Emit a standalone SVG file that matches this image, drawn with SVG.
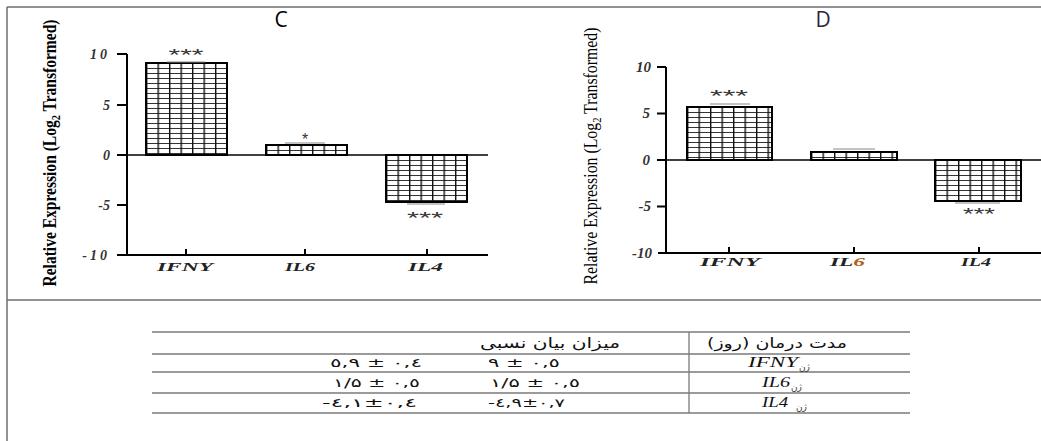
<svg xmlns="http://www.w3.org/2000/svg" width="1041" height="441" viewBox="0 0 1041 441">
<style>
.frame{stroke:#6e6e6e;stroke-width:1.5;fill:none}
.axis{stroke:#000;stroke-width:2;fill:none}
.zero{stroke:#000;stroke-width:1.5;fill:none}
.tick{stroke:#000;stroke-width:2}
.err{stroke:#888;stroke-width:1.2}
.bar{fill:url(#grid);stroke:#000;stroke-width:2}
.tl{font-family:"Liberation Serif",serif;font-style:italic;font-weight:bold;fill:#333;text-anchor:end}
.cat{font-family:"Liberation Serif",serif;font-style:italic;font-weight:bold;fill:#222}
.star{font-family:"Liberation Sans",sans-serif;font-size:16px;fill:#333;text-anchor:middle}
.title{font-family:"Open Sans","Liberation Sans",sans-serif;font-size:21px;text-anchor:middle}
.ylab{font-family:"Liberation Serif",serif;fill:#000;text-anchor:middle}
.tline{stroke:#7a7a7a;stroke-width:1.3}
.fa{font-family:"DejaVu Sans",sans-serif;fill:#111}
.num{font-family:"DejaVu Sans",sans-serif;font-size:12px;fill:#111;unicode-bidi:bidi-override;direction:ltr}
.gene{font-family:"Liberation Serif",serif;font-style:italic;font-size:14px;fill:#111}
.zh{font-family:"DejaVu Sans",sans-serif;font-size:9px;fill:#333}
</style>
<defs>
<pattern id="grid" patternUnits="userSpaceOnUse" width="11.5" height="5">
<rect width="11.5" height="5" fill="#fff"/>
<line x1="0" y1="0.5" x2="11.5" y2="0.5" stroke="#333" stroke-width="1"/>
<line x1="0.7" y1="0" x2="0.7" y2="5" stroke="#111" stroke-width="1.4"/>
</pattern>
</defs>
<rect width="1041" height="441" fill="#fff"/>
<g id="frame">
<line class="frame" x1="7" y1="7" x2="1041" y2="7"/>
<line class="frame" x1="7" y1="7" x2="7" y2="441"/>
<line class="frame" x1="7" y1="300" x2="1041" y2="300"/>
</g>

<g id="chartC">
<text class="title" x="281" y="27">C</text>
<text class="ylab" font-weight="bold" font-size="18" transform="translate(56,153) rotate(-90)" textLength="267" lengthAdjust="spacingAndGlyphs">Relative Expression (Log<tspan font-size="12" dy="4">2</tspan><tspan dy="-4"> Transformed)</tspan></text>
<g id="C-bars">
<g transform="translate(146,63)"><rect class="bar" width="81" height="92"/></g>
<g transform="translate(266,145)"><rect class="bar" width="81" height="10"/></g>
<g transform="translate(386,155)"><rect class="bar" width="81" height="47"/></g>
</g>
<g id="C-axes">
<line class="axis" x1="127" y1="54" x2="127" y2="256"/>
<line class="axis" x1="126" y1="255" x2="488" y2="255"/>
<line class="zero" x1="127" y1="155" x2="488" y2="155"/>
<line class="tick" x1="117" y1="54" x2="127" y2="54"/>
<line class="tick" x1="117" y1="105" x2="127" y2="105"/>
<line class="tick" x1="117" y1="155" x2="127" y2="155"/>
<line class="tick" x1="117" y1="205" x2="127" y2="205"/>
<line class="tick" x1="117" y1="255" x2="127" y2="255"/>
<line class="tick" x1="186" y1="249" x2="186" y2="255"/>
<line class="tick" x1="305" y1="249" x2="305" y2="255"/>
<line class="tick" x1="427" y1="249" x2="427" y2="255"/>
<text class="tl" font-size="14" x="110" y="59" letter-spacing="3">10</text>
<text class="tl" font-size="14" x="110" y="110">5</text>
<text class="tl" font-size="14" x="110" y="160">0</text>
<text class="tl" font-size="14" x="110" y="210">-5</text>
<text class="tl" font-size="14" x="110" y="260" letter-spacing="3">-10</text>
<text class="cat" font-size="12" x="157" y="271" textLength="56" lengthAdjust="spacingAndGlyphs">IFNY</text>
<text class="cat" font-size="12" x="285" y="271" textLength="30" lengthAdjust="spacingAndGlyphs">IL6</text>
<text class="cat" font-size="12" x="408" y="271" textLength="35" lengthAdjust="spacingAndGlyphs">IL4</text>
</g>
<g id="C-err">
<line class="err" x1="167" y1="62" x2="205" y2="62"/>
<line class="err" x1="285" y1="143" x2="325" y2="143"/>
<line class="err" x1="407" y1="204" x2="445" y2="204"/>
<text class="star" x="186" y="61" textLength="35" lengthAdjust="spacingAndGlyphs">***</text>
<text class="star" x="305" y="145">*</text>
<text class="star" x="425" y="224" textLength="36" lengthAdjust="spacingAndGlyphs">***</text>
</g>
</g>

<g id="chartD">
<text class="title" x="823" y="27" fill="#2e2440">D</text>
<text class="ylab" font-size="18" transform="translate(597,156) rotate(-90)" textLength="257" lengthAdjust="spacingAndGlyphs">Relative Expression (Log<tspan font-size="12" dy="4">2</tspan><tspan dy="-4"> Transformed)</tspan></text>
<g id="D-bars">
<g transform="translate(687,107)"><rect class="bar" width="85" height="53"/></g>
<g transform="translate(811,152)"><rect class="bar" width="86" height="8"/></g>
<g transform="translate(935,160)"><rect class="bar" width="86" height="41"/></g>
</g>
<g id="D-axes">
<line class="axis" x1="666" y1="67" x2="666" y2="254"/>
<line class="axis" x1="658" y1="253" x2="1041" y2="253"/>
<line class="zero" x1="666" y1="160" x2="1041" y2="160"/>
<line class="tick" x1="657" y1="67" x2="666" y2="67"/>
<line class="tick" x1="657" y1="113.5" x2="666" y2="113.5"/>
<line class="tick" x1="657" y1="160" x2="666" y2="160"/>
<line class="tick" x1="657" y1="206.5" x2="666" y2="206.5"/>
<line class="tick" x1="729" y1="247" x2="729" y2="253"/>
<line class="tick" x1="854" y1="247" x2="854" y2="253"/>
<line class="tick" x1="979" y1="247" x2="979" y2="253"/>
<text class="tl" font-size="15" x="651" y="72">10</text>
<text class="tl" font-size="15" x="650" y="118">5</text>
<text class="tl" font-size="15" x="650" y="165">0</text>
<text class="tl" font-size="15" x="651" y="211">-5</text>
<text class="tl" font-size="15" x="652" y="258">-10</text>
<text class="cat" font-size="12" x="700" y="266" textLength="60" lengthAdjust="spacingAndGlyphs">IFNY</text>
<text class="cat" font-size="12" x="830" y="266" textLength="35" lengthAdjust="spacingAndGlyphs">IL<tspan fill="#b06020">6</tspan></text>
<text class="cat" font-size="12" x="961" y="266" textLength="30" lengthAdjust="spacingAndGlyphs">IL4</text>
</g>
<g id="D-err">
<line class="err" x1="710" y1="104" x2="750" y2="104"/>
<line class="err" x1="833" y1="149" x2="875" y2="149"/>
<line class="err" x1="955" y1="203" x2="1000" y2="203"/>
<text class="star" x="729" y="102" textLength="38" lengthAdjust="spacingAndGlyphs">***</text>
<text class="star" x="979" y="220" textLength="32" lengthAdjust="spacingAndGlyphs">***</text>
</g>
</g>

<g id="table">
<line class="tline" x1="152" y1="332" x2="910" y2="332"/>
<line class="tline" x1="152" y1="354" x2="910" y2="354" stroke="#555"/>
<line class="tline" x1="152" y1="372" x2="910" y2="372"/>
<line class="tline" x1="152" y1="393" x2="910" y2="393" stroke="#bdbdbd" stroke-width="1.8"/>
<line class="tline" x1="152" y1="413" x2="910" y2="413"/>
<line class="tline" x1="689" y1="332" x2="689" y2="413" stroke="#666" stroke-width="1.5"/>
<text class="fa" font-size="14" x="550" y="348" direction="rtl" text-anchor="middle" textLength="140" lengthAdjust="spacingAndGlyphs">میزان بیان نسبی</text>
<text class="fa" font-size="14" x="777" y="348" direction="rtl" text-anchor="middle" textLength="140" lengthAdjust="spacingAndGlyphs">مدت درمان (روز)</text>
<text class="num" x="330" y="367" textLength="92" lengthAdjust="spacingAndGlyphs">٥,٩ ± ٠,٤</text>
<text class="num" x="333" y="387" textLength="87" lengthAdjust="spacingAndGlyphs">١/۵ ± ٠,٥</text>
<text class="num" x="322" y="407" textLength="95" lengthAdjust="spacingAndGlyphs">-٤,١±٠,٤</text>
<text class="num" x="488" y="367" textLength="72" lengthAdjust="spacingAndGlyphs">٩ ± ٠,٥</text>
<text class="num" x="490" y="387" textLength="90" lengthAdjust="spacingAndGlyphs">١/۵ ± ٠,٥</text>
<text class="num" x="488" y="407" textLength="77" lengthAdjust="spacingAndGlyphs">-٤,٩±٠,٧</text>
<text class="gene" x="748" y="367" textLength="50" lengthAdjust="spacingAndGlyphs">IFNY</text>
<text class="zh" x="799" y="370">ژن</text>
<text class="gene" x="762" y="387" textLength="28" lengthAdjust="spacingAndGlyphs">IL6</text>
<text class="zh" x="791" y="390">ژن</text>
<text class="gene" x="762" y="407" textLength="26" lengthAdjust="spacingAndGlyphs">IL4</text>
<text class="zh" x="796" y="410">ژن</text>
</g>
</svg>
